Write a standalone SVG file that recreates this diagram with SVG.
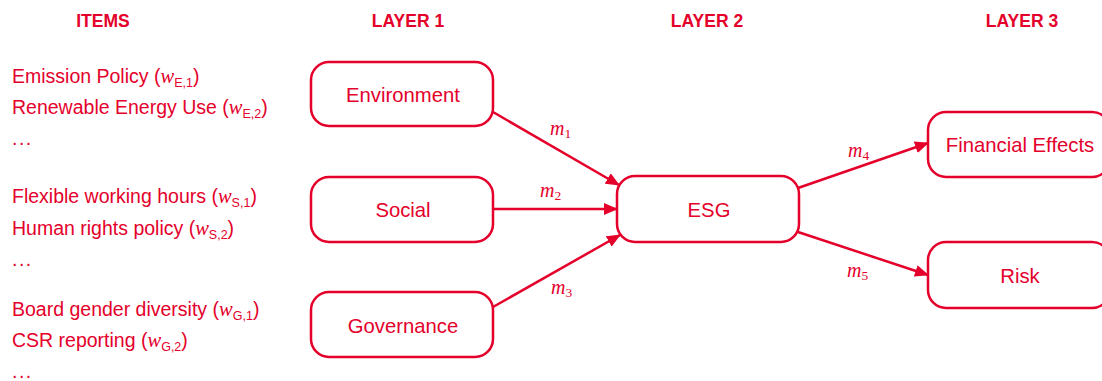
<svg xmlns="http://www.w3.org/2000/svg" width="1102" height="381" viewBox="0 0 1102 381">
<style>
.hdr{font-family:"Liberation Sans",Arial,sans-serif;font-weight:bold;font-size:17.5px;fill:#e4002b;text-anchor:middle}
.item{font-family:"Liberation Sans",Arial,sans-serif;font-size:19.5px;fill:#e4002b}
.dots{letter-spacing:1.5px}
.w{font-family:"Liberation Serif","Times New Roman",serif;font-style:italic;font-size:20.5px}
.sub{font-size:12.5px}
.box{fill:#fff;stroke:#e4002b;stroke-width:2.5}
.lbl{font-family:"Liberation Sans",Arial,sans-serif;font-size:20.3px;fill:#e4002b;text-anchor:middle}
.edge{stroke:#e4002b;stroke-width:2.5;fill:none;marker-end:url(#ah)}
.m{font-family:"Liberation Serif","Times New Roman",serif;font-style:italic;font-size:20px;fill:#e4002b}
.ms{font-style:normal;font-size:13.5px}
</style>
<defs>
<marker id="ah" viewBox="0 0 14 12" refX="13" refY="6" markerWidth="14" markerHeight="12" markerUnits="userSpaceOnUse" orient="auto">
<path d="M0,0 L14,6 L0,12 Z" fill="#e4002b"/>
</marker>
</defs>
<rect width="1102" height="381" fill="#fff"/>
<g id="headers">
<text class="hdr" x="103" y="27">ITEMS</text>
<text class="hdr" x="408" y="27">LAYER 1</text>
<text class="hdr" x="707" y="27">LAYER 2</text>
<text class="hdr" x="1022" y="27">LAYER 3</text>
</g>
<g id="items">
<text class="item" x="12" y="83">Emission Policy (<tspan class="w">w</tspan><tspan class="sub" dy="4">E,1</tspan><tspan dy="-4">)</tspan></text>
<text class="item" x="12" y="114">Renewable Energy Use (<tspan class="w">w</tspan><tspan class="sub" dy="4">E,2</tspan><tspan dy="-4">)</tspan></text>
<text class="item dots" x="12" y="145">...</text>
<text class="item" x="12" y="203">Flexible working hours (<tspan class="w">w</tspan><tspan class="sub" dy="4">S,1</tspan><tspan dy="-4">)</tspan></text>
<text class="item" x="12" y="235">Human rights policy (<tspan class="w">w</tspan><tspan class="sub" dy="4">S,2</tspan><tspan dy="-4">)</tspan></text>
<text class="item dots" x="12" y="266">...</text>
<text class="item" x="12" y="316">Board gender diversity (<tspan class="w">w</tspan><tspan class="sub" dy="4">G,1</tspan><tspan dy="-4">)</tspan></text>
<text class="item" x="12" y="347">CSR reporting (<tspan class="w">w</tspan><tspan class="sub" dy="4">G,2</tspan><tspan dy="-4">)</tspan></text>
<text class="item dots" x="12" y="378">...</text>
</g>
<g id="connectors">
<line class="edge" x1="493" y1="112" x2="619" y2="185"/>
<line class="edge" x1="493" y1="209" x2="617" y2="209"/>
<line class="edge" x1="493" y1="307" x2="620" y2="235"/>
<line class="edge" x1="798" y1="188" x2="928" y2="143"/>
<line class="edge" x1="798" y1="232" x2="928" y2="275"/>
<text class="m" x="550" y="135">m<tspan class="ms" dy="3">1</tspan></text>
<text class="m" x="540" y="197">m<tspan class="ms" dy="3">2</tspan></text>
<text class="m" x="551" y="294">m<tspan class="ms" dy="3">3</tspan></text>
<text class="m" x="848" y="157">m<tspan class="ms" dy="3">4</tspan></text>
<text class="m" x="847" y="277">m<tspan class="ms" dy="3">5</tspan></text>
</g>
<g id="environment">
<rect class="box" x="311" y="62" width="182" height="64" rx="18"/>
<text class="lbl" x="403" y="102">Environment</text>
</g>
<g id="social">
<rect class="box" x="311" y="177" width="182" height="65" rx="18"/>
<text class="lbl" x="403" y="217">Social</text>
</g>
<g id="governance">
<rect class="box" x="311" y="292" width="182" height="65" rx="18"/>
<text class="lbl" x="403" y="333">Governance</text>
</g>
<g id="esg">
<rect class="box" x="617" y="176" width="182" height="66" rx="18"/>
<text class="lbl" x="709" y="217">ESG</text>
</g>
<g id="financial-effects">
<rect class="box" x="928" y="112" width="182" height="65" rx="18"/>
<text class="lbl" x="1020" y="152">Financial Effects</text>
</g>
<g id="risk">
<rect class="box" x="928" y="242" width="182" height="66" rx="18"/>
<text class="lbl" x="1020" y="283">Risk</text>
</g>
</svg>
